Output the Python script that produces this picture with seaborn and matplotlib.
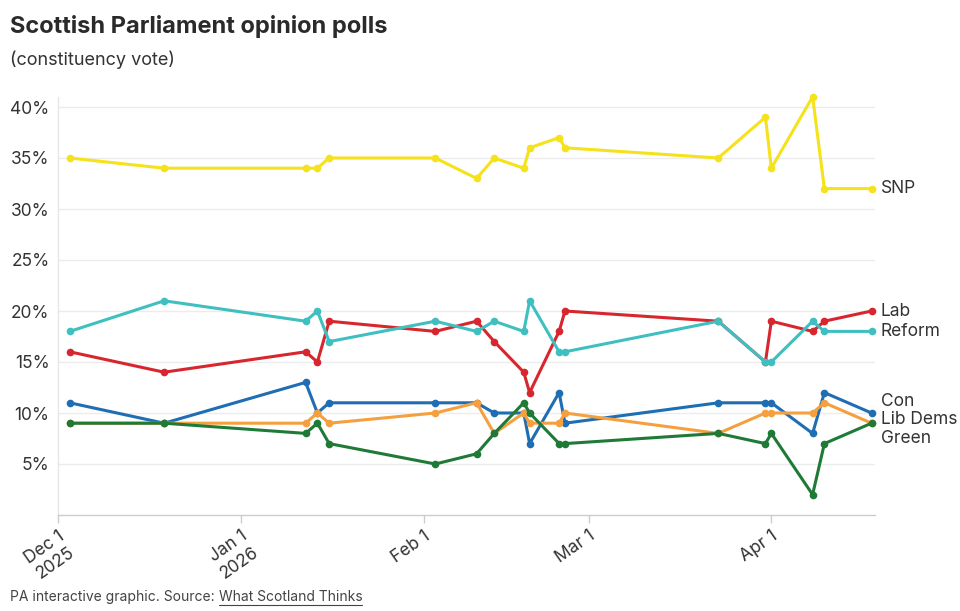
import seaborn as sns
import matplotlib.pyplot as plt
import pandas as pd
from matplotlib.lines import Line2D

# poll fieldwork end dates
dates = ["2025-12-03", "2025-12-19", "2026-01-12", "2026-01-14", "2026-01-16",
         "2026-02-03", "2026-02-10", "2026-02-13", "2026-02-18", "2026-02-19",
         "2026-02-24", "2026-02-25", "2026-03-23", "2026-03-31", "2026-04-01",
         "2026-04-08", "2026-04-10", "2026-04-18"]

snp = [35, 34, 34, 34, 35, 35, 33, 35, 34, 36, 37, 36, 35, 39, 34, 41, 32, 32]
lab = [16, 14, 16, 15, 19, 18, 19, 17, 14, 12, 18, 20, 19, 15, 19, 18, 19, 20]
reform = [18, 21, 19, 20, 17, 19, 18, 19, 18, 21, 16, 16, 19, 15, 15, 19, 18, 18]
con = [11, 9, 13, 10, 11, 11, 11, 10, 10, 7, 12, 9, 11, 11, 11, 8, 12, 10]
libdem = [9, 9, 9, 10, 9, 10, 11, 8, 10, 9, 9, 10, 8, 10, 10, 10, 11, 9]
green = [9, 9, 8, 9, 7, 5, 6, 8, 11, 10, 7, 7, 8, 7, 8, 2, 7, 9]

parties = ["SNP", "Lab", "Reform", "Con", "Lib Dems", "Green"]
colours = ["#f5e21a", "#d7262e", "#3fbfc0", "#1f6db3", "#f5a03f", "#1f7a37"]

tick_dates = ["2025-12-01", "2026-01-01", "2026-02-01", "2026-03-01", "2026-04-01"]
tick_labels = ["Dec 1\n2025", "Jan 1\n2026", "Feb 1", "Mar 1", "Apr 1"]

df = pd.DataFrame({"date": pd.to_datetime(dates), "SNP": snp, "Lab": lab,
                   "Reform": reform, "Con": con, "Lib Dems": libdem, "Green": green})

sns.set_theme(style="white")
plt.rcParams['font.family'] = ['Inter', 'DejaVu Sans']

fig, ax = plt.subplots(figsize=(9.6, 6.11), dpi=100)
fig.subplots_adjust(left=58/960, right=875/960, bottom=1-515/611, top=1-96.8/611)

for p, c in zip(parties, colours):
    sns.lineplot(data=df, x="date", y=p, color=c, marker="o", markersize=5.5,
                 markeredgewidth=0, linewidth=2.2, ax=ax, clip_on=False)

ax.set_xlim(pd.Timestamp("2025-12-01"), pd.Timestamp("2026-04-18 14:00"))
ax.set_ylim(0, 41)
ax.set_xlabel("")
ax.set_ylabel("")

ax.set_yticks(range(5, 45, 5))
ax.set_yticklabels([f"{v}%" for v in range(5, 45, 5)])
ax.set_xticks(pd.to_datetime(tick_dates))
ax.set_xticklabels(tick_labels)
for lbl in ax.get_xticklabels():
    lbl.set_rotation(35)
    lbl.set_ha("right")
    lbl.set_va("top")
    lbl.set_rotation_mode("anchor")
    lbl.set_multialignment("center")

ax.tick_params(axis="y", length=0, labelsize=12.5, labelcolor="#333333", pad=6)
ax.tick_params(axis="x", length=6, width=1, color="#cccccc", labelsize=12.5,
               labelcolor="#333333", pad=3, direction="out")
ax.xaxis.set_tick_params(bottom=True)

ax.grid(axis="y", color="#ececec", linewidth=1)
ax.grid(axis="x", visible=False)
for s in ["top", "right"]:
    ax.spines[s].set_visible(False)
ax.spines["left"].set_color("#e6e6e6")
ax.spines["bottom"].set_color("#cccccc")
ax.spines["left"].set_linewidth(1)
ax.spines["bottom"].set_linewidth(1)

# end labels, nudged apart where they would collide
last = [(df[p].iloc[-1], p) for p in parties]
last.sort(reverse=True)
gap = 1.8
pos = [v for v, _ in last]
for _ in range(50):
    for i in range(1, len(pos)):
        if pos[i - 1] - pos[i] < gap:
            mid = (pos[i - 1] + pos[i]) / 2
            pos[i - 1] = mid + gap / 2
            pos[i] = mid - gap / 2
for (v, p), y in zip(last, pos):
    ax.text(1.007, y, p, transform=ax.get_yaxis_transform(), fontsize=12.5,
            color="#333333", va="center", ha="left", clip_on=False)

fig.text(10/960, 1-27/611, "Scottish Parliament opinion polls", fontsize=17,
         fontweight="bold", color="#2a2a2a", va="center")
fig.text(10/960, 1-60/611, "(constituency vote)", fontsize=13, color="#333333", va="center")

foot = fig.text(10/960, 1-597/611, "PA interactive graphic. Source: ", fontsize=10,
                color="#444444", va="center")
fig.canvas.draw()
bb = foot.get_window_extent()
link = fig.text(bb.x1/960, 1-597/611, "What Scotland Thinks", fontsize=10,
                color="#444444", va="center")
fig.canvas.draw()
lb = link.get_window_extent()
fig.add_artist(Line2D([lb.x0/960, lb.x1/960], [(lb.y0 - 1)/611, (lb.y0 - 1)/611],
                      color="#444444", linewidth=0.8))

fig.savefig("out.png", dpi=100)
